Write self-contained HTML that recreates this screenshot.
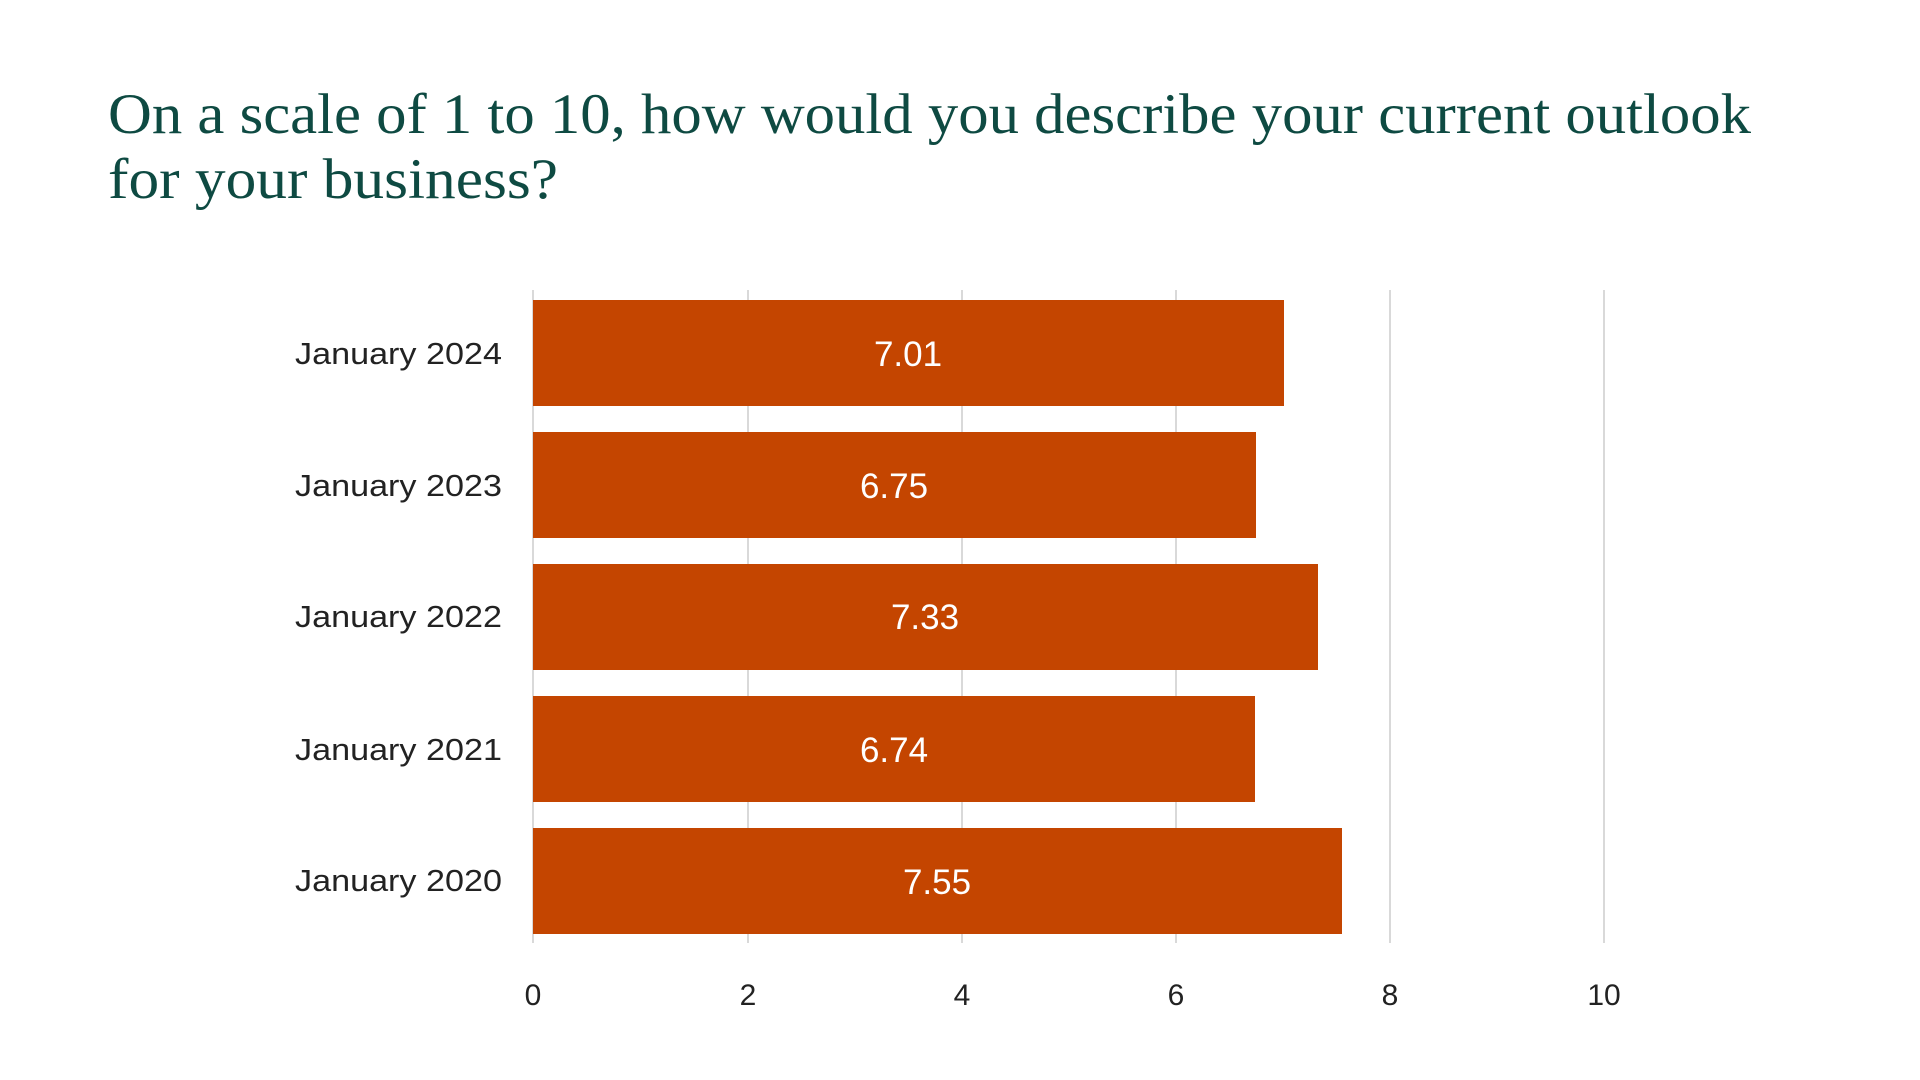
<!DOCTYPE html>
<html><head><meta charset="utf-8"><style>
html,body{margin:0;padding:0;background:#fff;}
svg{display:block;}
</style></head><body>
<svg width="1920" height="1080" viewBox="0 0 1920 1080" xmlns="http://www.w3.org/2000/svg">
<rect width="1920" height="1080" fill="#fff"/>
<g font-family="'Liberation Serif', serif" fill="#0E4A42" font-size="57">
<text x="108" y="133" textLength="1643" lengthAdjust="spacingAndGlyphs">On a scale of 1 to 10, how would you describe your current outlook</text>
<text x="108" y="198" textLength="450" lengthAdjust="spacingAndGlyphs">for your business?</text>
</g>
<g stroke="#d9d9d9" stroke-width="2">
<line x1="533" y1="290" x2="533" y2="943"/>
<line x1="748" y1="290" x2="748" y2="943"/>
<line x1="962" y1="290" x2="962" y2="943"/>
<line x1="1176" y1="290" x2="1176" y2="943"/>
<line x1="1390" y1="290" x2="1390" y2="943"/>
<line x1="1604" y1="290" x2="1604" y2="943"/>
</g>
<g fill="#C44500">
<rect x="533" y="300" width="751" height="106"/>
<rect x="533" y="432" width="723" height="106"/>
<rect x="533" y="564" width="785" height="106"/>
<rect x="533" y="696" width="722" height="106"/>
<rect x="533" y="828" width="809" height="106"/>
</g>
<g font-family="'Liberation Sans', sans-serif" fill="#fff" font-size="35" text-anchor="middle">
<text x="908" y="366">7.01</text>
<text x="894" y="498">6.75</text>
<text x="925" y="629">7.33</text>
<text x="894" y="762">6.74</text>
<text x="937" y="894">7.55</text>
</g>
<g font-family="'Liberation Sans', sans-serif" fill="#222" font-size="31">
<text x="295" y="364" textLength="207" lengthAdjust="spacingAndGlyphs">January 2024</text>
<text x="295" y="496" textLength="207" lengthAdjust="spacingAndGlyphs">January 2023</text>
<text x="295" y="627" textLength="207" lengthAdjust="spacingAndGlyphs">January 2022</text>
<text x="295" y="760" textLength="207" lengthAdjust="spacingAndGlyphs">January 2021</text>
<text x="295" y="891" textLength="207" lengthAdjust="spacingAndGlyphs">January 2020</text>
</g>
<g font-family="'Liberation Sans', sans-serif" fill="#222" font-size="30" text-anchor="middle">
<text x="533" y="1005">0</text>
<text x="748" y="1005">2</text>
<text x="962" y="1005">4</text>
<text x="1176" y="1005">6</text>
<text x="1390" y="1005">8</text>
<text x="1604" y="1005">10</text>
</g>
</svg>
</body></html>
